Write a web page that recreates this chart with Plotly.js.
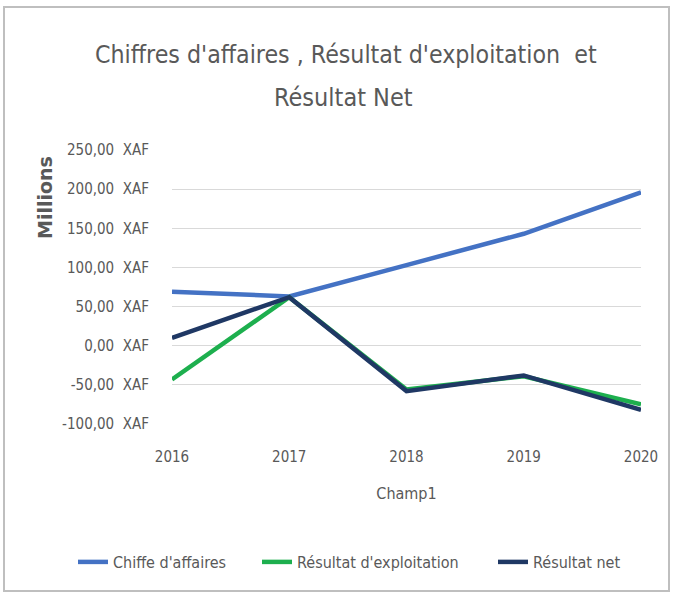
<!DOCTYPE html>
<html>
<head>
<meta charset="utf-8">
<script src="https://cdn.plot.ly/plotly-3.0.1.min.js"></script>
<style>
html,body{margin:0;padding:0;background:#fff;}
#chart{width:673px;height:596px;}
</style>
</head>
<body>
<div id="chart"></div>
<script>
const years = ['2016','2017','2018','2019','2020'];
const chiffreAffaires = [69, 63, 103, 143, 196];
const resultatExploitation = [-43, 62, -56, -39, -75];
const resultatNet = [10, 62, -58, -38, -82];
const yTickVals = [-100, -50, 0, 50, 100, 150, 200, 250];
const yTickText = ['-100,00  XAF','-50,00  XAF','0,00  XAF','50,00  XAF','100,00  XAF','150,00  XAF','200,00  XAF','250,00  XAF'];
const seriesNames = ["Chiffe d'affaires", "Résultat d'exploitation", "Résultat net"];
const titleLines = ["Chiffres d'affaires , Résultat d'exploitation  et", "Résultat Net"];

const W = 673, H = 596, L = 172, R = 32, T = 150, B = 172;
const pw = W - L - R, ph = H - T - B;
const px = v => (v - L) / pw;
const py = v => (H - B - v) / ph;

const font = '"DejaVu Sans Condensed", sans-serif';
const gray = '#595959';

const traces = [
  {x: years, y: chiffreAffaires, name: seriesNames[0], mode: 'lines', legendwidth: 139, line: {color: '#4472C4', width: 4.5}},
  {x: years, y: resultatExploitation, name: seriesNames[1], mode: 'lines', legendwidth: 191, line: {color: '#1DAF4E', width: 4.5}},
  {x: years, y: resultatNet, name: seriesNames[2], mode: 'lines', legendwidth: 95, line: {color: '#1F3864', width: 4.5}}
];

const layout = {
  width: W, height: H,
  margin: {l: L, r: R, t: T, b: B},
  paper_bgcolor: '#fff', plot_bgcolor: '#fff',
  font: {family: font, color: gray, size: 15},
  showlegend: true,
  legend: {orientation: 'h', xref: 'paper', yref: 'paper', x: px(73), xanchor: 'left',
           y: py(562), yanchor: 'middle',
           font: {family: font, size: 16, color: gray}, itemwidth: 30, traceorder: 'normal'},
  xaxis: {type: 'category', range: [0, 4], showgrid: false, zeroline: false, showline: false,
          ticks: 'outside', ticklen: 19, tickcolor: 'rgba(0,0,0,0)',
          tickfont: {family: font, size: 15, color: gray},
          title: {text: 'Champ1', font: {family: font, size: 16, color: gray}, standoff: 22}},
  yaxis: {range: [-100, 250], tickvals: yTickVals, ticktext: yTickText, showgrid: true, gridcolor: '#d9d9d9', gridwidth: 1,
          zeroline: false, showline: false, ticks: 'outside', ticklen: 19, tickcolor: 'rgba(0,0,0,0)',
          tickfont: {family: font, size: 15, color: gray}, fixedrange: true},
  annotations: [
    {text: titleLines[0], xref: 'paper', yref: 'paper', x: px(346), y: py(55), showarrow: false,
     font: {family: font, size: 24.7, color: gray}, xanchor: 'center', yanchor: 'middle'},
    {text: titleLines[1], xref: 'paper', yref: 'paper', x: px(343), y: py(97), showarrow: false,
     font: {family: font, size: 25, color: gray}, xanchor: 'center', yanchor: 'middle'},
    {text: 'Millions', xref: 'paper', yref: 'paper', x: px(45), y: py(198), textangle: -90,
     showarrow: false, font: {family: '"DejaVu Sans", sans-serif', size: 19, color: gray, weight: 'bold'},
     xanchor: 'center', yanchor: 'middle'}
  ],
  shapes: [{type: 'rect', xref: 'paper', yref: 'paper', x0: px(4), x1: px(669), y0: py(591), y1: py(7),
            line: {color: '#bfbfbf', width: 2}, fillcolor: 'rgba(0,0,0,0)', layer: 'below'}]
};

Plotly.newPlot('chart', traces, layout, {displayModeBar: false, staticPlot: true});
</script>
</body>
</html>
